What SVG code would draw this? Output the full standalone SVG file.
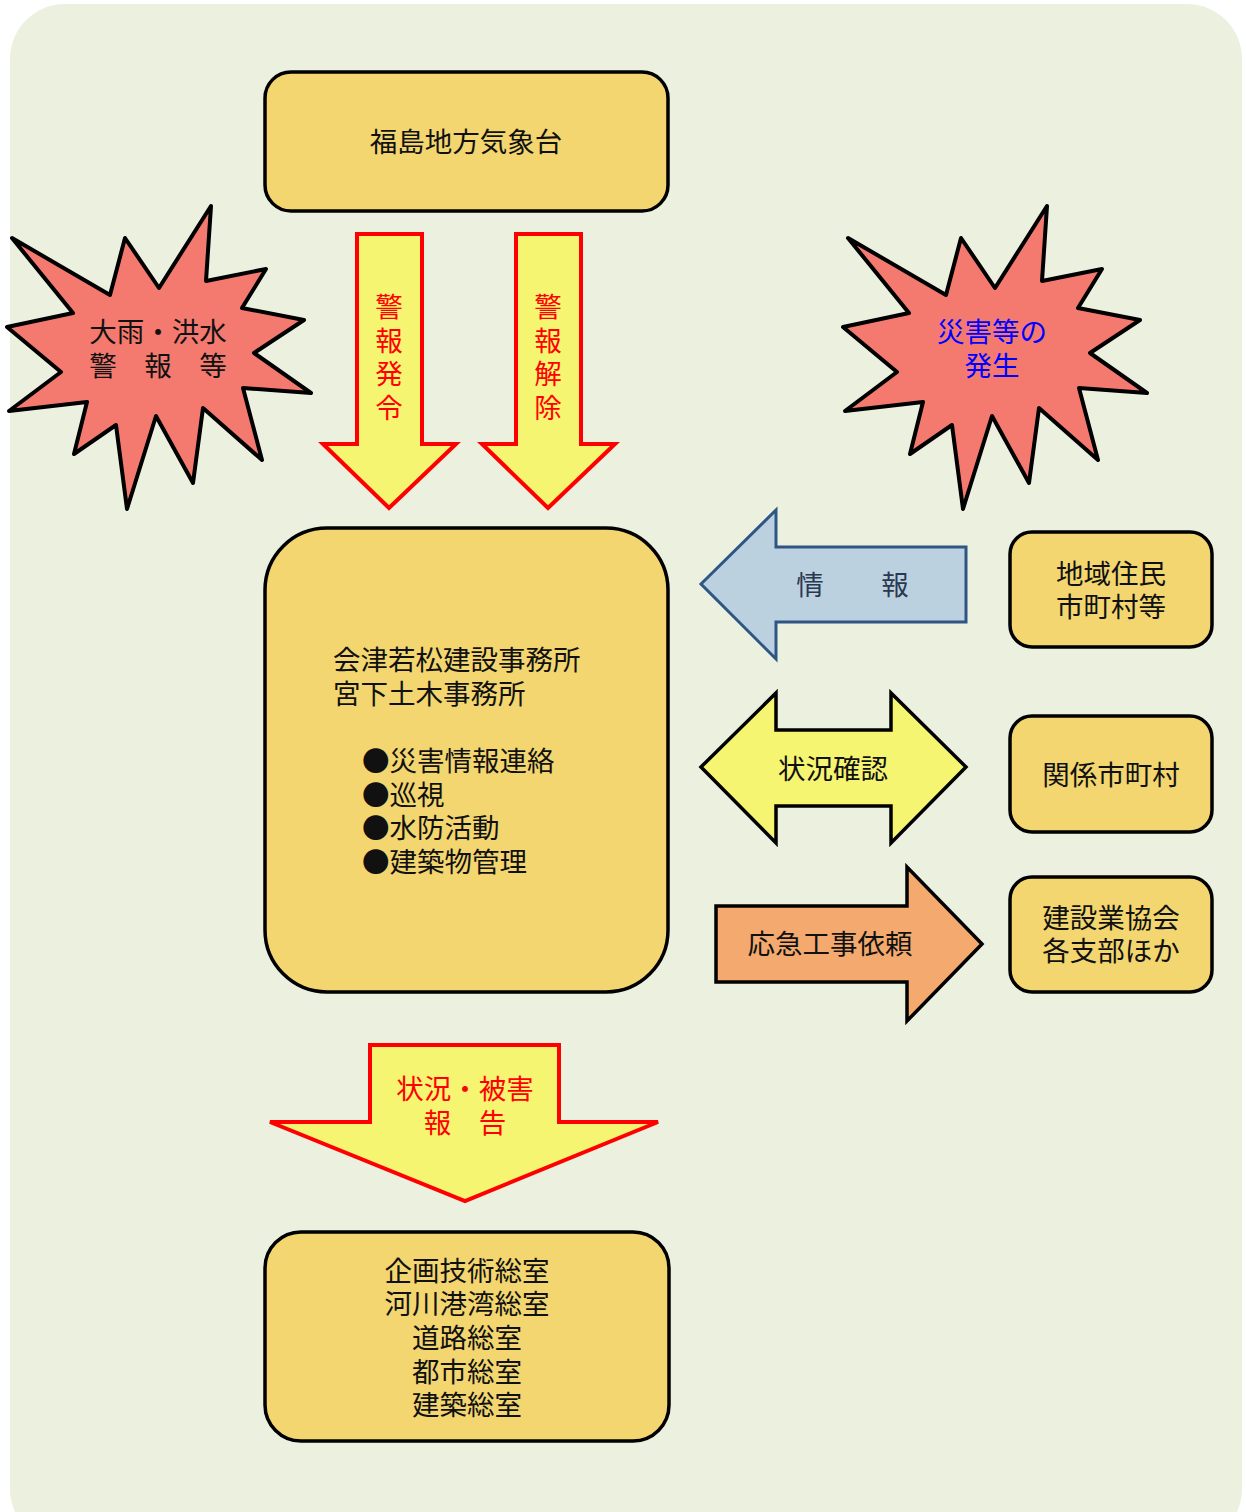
<svg xmlns="http://www.w3.org/2000/svg" width="1246" height="1512" viewBox="0 0 1246 1512">
<style>
text{font-family:"Noto Sans CJK JP","Noto Sans CJK SC",sans-serif;font-size:27.5px;dominant-baseline:central;fill:#111;}
.box{fill:#F3D66F;stroke:#000;stroke-width:3.5;}
.star{fill:#F47A70;stroke:#000;stroke-width:4;stroke-linejoin:round;}
.yarrow{fill:#F5F572;stroke:#FF0000;stroke-width:4;}
.red{fill:#FF0000;}
.c{text-anchor:middle;}
</style>
<defs>
<polygon id="starShape" points="12,238 110,295 125,238 159,288 211,206 206,281 266,269 242,308 304,320 254,353 311,393 243,388 262,460 203,408 193,483 156,416 127,509 116,425 74,454 87,402 9,411 61,372 7,327 73,313"/>
</defs>
<rect x="10" y="4" width="1232" height="1540" rx="55" ry="55" fill="#ECF0DF"/>

<g id="star-left">
<use href="#starShape" class="star"/>
<text class="c"><tspan x="158" y="330">大雨・洪水</tspan><tspan x="158" y="364">警　報　等</tspan></text>
</g>
<g id="star-right">
<use href="#starShape" class="star" transform="translate(836,0)"/>
<text class="c" style="fill:#0000FF"><tspan x="992" y="330">災害等の</tspan><tspan x="992" y="364">発生</tspan></text>
</g>

<g id="node-kishodai">
<rect class="box" x="265" y="72" width="403" height="139" rx="26"/>
<text x="466" y="140" class="c">福島地方気象台</text>
</g>
<g id="node-jimusho">
<rect class="box" x="265" y="528" width="403" height="464" rx="62"/>
<text><tspan x="333" y="658">会津若松建設事務所</tspan><tspan x="333" y="692">宮下土木事務所</tspan><tspan x="362" y="759">●災害情報連絡</tspan><tspan x="362" y="793">●巡視</tspan><tspan x="362" y="826">●水防活動</tspan><tspan x="362" y="860">●建築物管理</tspan></text>
</g>
<g id="node-jumin">
<rect class="box" x="1010" y="532" width="202" height="115" rx="22"/>
<text class="c"><tspan x="1111" y="572">地域住民</tspan><tspan x="1111" y="605">市町村等</tspan></text>
</g>
<g id="node-shichoson">
<rect class="box" x="1010" y="716" width="202" height="116" rx="22"/>
<text x="1111" y="773" class="c">関係市町村</text>
</g>
<g id="node-kyokai">
<rect class="box" x="1010" y="877" width="202" height="115" rx="22"/>
<text class="c"><tspan x="1111" y="916">建設業協会</tspan><tspan x="1111" y="949">各支部ほか</tspan></text>
</g>
<g id="node-honcho">
<rect class="box" x="265" y="1232" width="404" height="209" rx="36"/>
<text class="c"><tspan x="467" y="1269">企画技術総室</tspan><tspan x="467" y="1302">河川港湾総室</tspan><tspan x="467" y="1336">道路総室</tspan><tspan x="467" y="1370">都市総室</tspan><tspan x="467" y="1403">建築総室</tspan></text>
</g>

<g id="connectors">
<g id="arrow-hatsurei">
<polygon class="yarrow" points="357,234 422,234 422,444 456,444 389,508 323,444 357,444"/>
<text class="c red"><tspan x="389" y="305">警</tspan><tspan x="389" y="339">報</tspan><tspan x="389" y="372">発</tspan><tspan x="389" y="406">令</tspan></text>
</g>
<g id="arrow-kaijo">
<polygon class="yarrow" points="516,234 581,234 581,444 615,444 548,508 482,444 516,444"/>
<text class="c red"><tspan x="548" y="305">警</tspan><tspan x="548" y="339">報</tspan><tspan x="548" y="372">解</tspan><tspan x="548" y="406">除</tspan></text>
</g>
<g id="arrow-joho">
<polygon points="701,584 776,510 776,547 966,547 966,622 776,622 776,659" fill="#BCD1E0" stroke="#2E5584" stroke-width="3"/>
<text class="c" style="fill:#2A3850"><tspan x="810" y="583">情</tspan><tspan x="895" y="583">報</tspan></text>
</g>
<g id="arrow-kakunin">
<polygon points="701,767 776,693 776,730 891,730 891,693 966,767 891,843 891,806 776,806 776,843" fill="#F5F572" stroke="#000" stroke-width="3.5"/>
<text x="833" y="767" class="c">状況確認</text>
</g>
<g id="arrow-irai">
<polygon points="716,906 907,906 907,867 982,944 907,1021 907,982 716,982" fill="#F4AA6E" stroke="#000" stroke-width="3.5"/>
<text x="830" y="942" class="c">応急工事依頼</text>
</g>
<g id="arrow-hokoku">
<polygon class="yarrow" points="370,1045 559,1045 559,1122 658,1122 465,1201 270,1122 370,1122"/>
<text class="c red"><tspan x="465" y="1087">状況・被害</tspan><tspan x="465" y="1121">報　告</tspan></text>
</g>
</g>
</svg>
